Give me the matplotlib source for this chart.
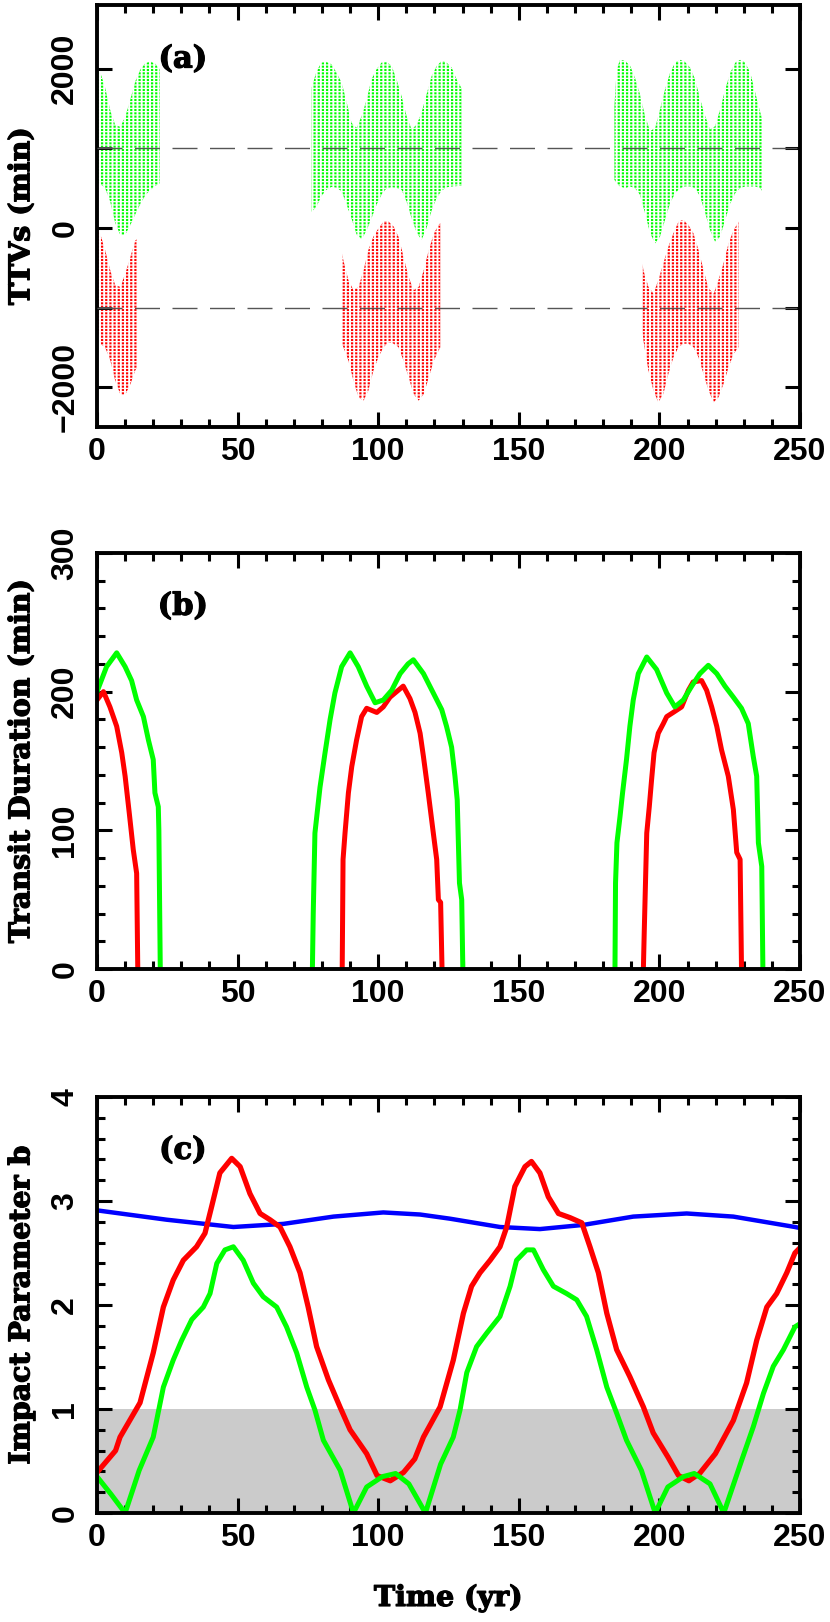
import numpy as np
import matplotlib
matplotlib.use("Agg")
import matplotlib.pyplot as plt
import matplotlib.patheffects as pe
from matplotlib.ticker import MultipleLocator, FixedLocator, FixedFormatter

plt.rcParams["font.family"] = ["Liberation Sans", "DejaVu Sans"]
plt.rcParams["font.weight"] = "bold"
plt.rcParams["hatch.linewidth"] = 1.0

GREEN, RED, BLUE = "#00ff00", "#ff0000", "#0000ff"
HEAVY = [pe.withStroke(linewidth=0.9, foreground="black")]
LABEL_FONT = dict(family="DejaVu Serif", weight="bold", size=20.5, path_effects=HEAVY)
TAG_FONT = dict(family="DejaVu Serif", weight="bold", size=22, path_effects=HEAVY)

# ---- (a) TTVs: upper / lower envelope of the zigzag, per transit window ----
ttv_g_t = [
    [0.4, 1.1, 2.9, 4.7, 6.5, 8.3, 10.1, 11.9, 13.6, 15.4, 17.2, 19.0, 20.8, 22.3],
    [76.3, 78.1, 79.8, 81.6, 83.4, 85.2, 87.0, 88.7, 90.5, 92.3, 94.1, 95.9, 97.6, 99.4,
     101.2, 103.0, 104.8, 106.5, 108.3, 110.1, 111.9, 113.7, 115.4, 117.2, 119.0, 120.8,
     122.6, 124.3, 126.1, 127.9, 129.7],
    [184.0, 184.8, 186.0, 187.8, 189.6, 191.3, 193.1, 194.9, 196.7, 198.5, 200.2, 202.0,
     203.8, 205.6, 207.4, 209.1, 210.9, 212.7, 214.5, 216.3, 218.0, 219.8, 221.6, 223.4,
     225.2, 227.0, 228.7, 230.5, 232.3, 234.1, 235.9, 236.7],
]
ttv_g_hi = [
    [1980, 1960, 1760, 1480, 1290, 1270, 1400, 1620, 1840, 1990, 2070, 2090, 2060, 1990],
    [1760, 1970, 2077, 2085, 2055, 1950, 1824, 1593, 1320, 1257, 1404, 1614, 1866, 1992,
     2077, 2085, 2035, 1866, 1656, 1404, 1236, 1299, 1446, 1677, 1908, 2035, 2098, 2077,
     2014, 1866, 1750],
    [1530, 1992, 2111, 2098, 2035, 1887, 1677, 1404, 1215, 1257, 1488, 1740, 1950, 2077,
     2111, 2085, 2014, 1866, 1614, 1404, 1236, 1278, 1488, 1740, 1950, 2077, 2111, 2077,
     1950, 1698, 1446, 1362],
]
ttv_g_lo = [
    [560, 555, 500, 330, 60, -90, -80, 40, 170, 300, 410, 480, 530, 560],
    [200, 270, 400, 480, 515, 505, 460, 300, 120, -80, -140, -30, 120, 290, 420, 500, 510,
     505, 480, 330, 120, -60, -150, 0, 220, 380, 470, 510, 520, 525, 530],
    [605, 560, 521, 500, 521, 500, 416, 185, -67, -193, -109, 101, 311, 438, 500, 521, 521,
     500, 395, 185, -25, -172, -109, 101, 311, 438, 500, 521, 521, 521, 500, 450],
]
ttv_r_t = [
    [0.4, 1.1, 2.9, 4.7, 6.5, 8.3, 10.1, 11.9, 13.6, 14.2],
    [87.0, 87.6, 89.4, 91.2, 93.0, 94.8, 96.5, 98.3, 100.1, 101.9, 103.7, 105.5, 107.2,
     109.0, 110.8, 112.6, 114.4, 116.2, 118.0, 119.8, 121.5, 122.1],
    [194.0, 194.3, 196.1, 197.9, 199.6, 201.4, 203.2, 205.0, 206.8, 208.5, 210.3, 212.1,
     213.9, 215.7, 217.5, 219.3, 221.0, 222.8, 224.6, 226.4, 228.2],
]
ttv_r_hi = [
    [-20, -70, -280, -530, -720, -740, -570, -360, -160, -140],
    [-300, -404, -656, -782, -740, -530, -277, -109, -4, 80, 80, 17, -109, -362, -614,
     -782, -740, -530, -277, -67, 38, 60],
    [-450, -530, -740, -824, -656, -446, -235, -67, 80, 101, 38, -67, -277, -530, -761,
     -824, -656, -446, -193, -25, 80],
]
ttv_r_lo = [
    [-1300, -1450, -1500, -1660, -1920, -2090, -2090, -1960, -1790, -1750],
    [-1450, -1496, -1664, -1917, -2127, -2169, -2043, -1790, -1622, -1496, -1433, -1454,
     -1496, -1664, -1875, -2085, -2169, -2085, -1875, -1664, -1538, -1500],
    [-1300, -1412, -1790, -2043, -2190, -2085, -1832, -1622, -1496, -1454, -1454, -1496,
     -1622, -1832, -2043, -2190, -2127, -1958, -1748, -1580, -1496],
]
ttv_offsets = [1000, -1000]

# ---- (b) transit duration (min) ----
dur_g_t = [
    [0, 3.4, 7.0, 10.0, 12.3, 14.1, 16.5, 18.3, 20.0, 20.6, 21.8, 22.0, 22.5],
    [76.6, 76.9, 77.5, 79.3, 81.1, 82.9, 84.6, 87.0, 90.0, 92.9, 95.9, 98.9, 101.8, 104.8,
     107.8, 110.6, 112.5, 116.1, 119.6, 122.6, 124.3, 126.1, 127.3, 128.1, 128.9, 129.7,
     130.1],
    [184.2, 184.4, 184.9, 186.0, 186.9, 188.3, 189.5, 190.7, 192.5, 195.5, 199.0, 202.6,
     205.5, 208.5, 211.5, 214.4, 217.4, 220.4, 223.3, 226.3, 229.2, 231.6, 233.4, 234.6,
     235.2, 236.4, 236.8],
]
dur_g_v = [
    [200, 218, 228, 218, 208, 194, 182, 165, 151, 127, 117, 100, 0],
    [0, 40, 98, 131, 156, 180, 199, 218, 228, 218, 204, 192, 194, 201, 213, 220, 223, 213,
     199, 187, 175, 160, 139, 122, 62, 50, 0],
    [0, 62, 91, 110, 127, 151, 175, 194, 213, 225, 216, 199, 189, 194, 204, 213, 219, 213,
     204, 196, 188, 177, 153, 139, 91, 74, 0],
]
dur_r_t = [
    [0, 2.3, 4.6, 7.0, 8.8, 10.0, 11.5, 12.9, 14.1, 14.5],
    [87.2, 87.5, 88.2, 89.4, 90.6, 92.3, 94.1, 95.9, 99.5, 101.8, 104.2, 108.9, 111.3,
     113.1, 114.9, 116.1, 117.8, 119.6, 120.8, 121.4, 122.2, 122.7],
    [194.3, 194.6, 194.9, 195.5, 196.4, 197.2, 198.1, 199.6, 201.4, 202.6, 204.9, 207.9,
     210.3, 212.0, 215.0, 216.8, 218.6, 220.4, 222.1, 224.5, 226.3, 227.5, 228.7, 229.2],
]
dur_r_v = [
    [194, 200, 189, 175, 156, 139, 112, 86, 69, 0],
    [0, 79, 98, 127, 146, 165, 182, 188, 185, 189, 196, 204, 195, 185, 170, 153, 127, 98,
     79, 50, 48, 0],
    [0, 26, 50, 98, 117, 136, 156, 170, 177, 182, 185, 189, 201, 207, 208, 201, 189, 175,
     158, 139, 115, 84, 79, 0],
]

# ---- (c) impact parameter b ----
imp_b_t = [0, 24.8, 48.5, 66.3, 84.1, 101.8, 114.9, 125.5, 143.3, 157.5, 172.9, 190.7,
           209.7, 226.3, 248.2, 250]
imp_b_v = [2.91, 2.82, 2.75, 2.78, 2.85, 2.89, 2.87, 2.83, 2.75, 2.73, 2.77, 2.85, 2.88,
           2.85, 2.75, 2.74]
imp_r_t = [0, 6.6, 8.2, 15.3, 20.0, 23.6, 27.1, 30.7, 35.4, 38.4, 40.8, 43.7, 47.9, 50.9,
           54.4, 58.0, 61.5, 65.1, 68.6, 72.2, 75.1, 78.1, 82.3, 86.4, 90.0, 95.9, 99.6,
           104.3, 109.0, 113.0, 116.1, 122.0, 126.7, 130.3, 133.2, 136.2, 139.8, 143.3,
           145.7, 148.6, 152.2, 154.5, 157.5, 160.5, 164.1, 168.2, 172.4, 175.3, 178.3,
           181.3, 184.8, 189.5, 194.3, 197.8, 203.0, 206.8, 210.5, 214.3, 219.9, 226.3,
           231.0, 234.6, 238.2, 241.7, 245.3, 248.2, 250]
imp_r_v = [0.39, 0.60, 0.73, 1.06, 1.54, 1.98, 2.24, 2.43, 2.56, 2.69, 2.95, 3.27, 3.41,
           3.33, 3.07, 2.88, 2.82, 2.75, 2.56, 2.31, 1.98, 1.60, 1.28, 1.02, 0.80, 0.57,
           0.36, 0.31, 0.39, 0.52, 0.73, 1.02, 1.47, 1.92, 2.18, 2.31, 2.43, 2.56, 2.75,
           3.14, 3.33, 3.38, 3.27, 3.04, 2.88, 2.84, 2.79, 2.56, 2.31, 1.92, 1.57, 1.31,
           1.02, 0.77, 0.54, 0.36, 0.31, 0.38, 0.57, 0.89, 1.25, 1.66, 1.98, 2.11, 2.31,
           2.50, 2.55]
imp_g_t = [0, 5, 10.0, 15.0, 20.0, 23.6, 27.1, 30.1, 33.7, 37.8, 40.2, 42.6, 45.5, 48.5,
           52.0, 55.6, 59.1, 63.9, 67.4, 71.0, 74.6, 77.5, 80.5, 86.5, 91.2, 95.9, 101.5,
           106.2, 110.9, 116.8, 122.2, 126.7, 129.1, 131.5, 135.0, 138.6, 143.3, 146.9,
           149.2, 152.8, 155.2, 158.7, 162.3, 167.0, 170.6, 174.1, 177.7, 181.3, 184.8,
           188.3, 193.6, 198.5, 203.0, 208.6, 212.4, 218.0, 222.9, 229.3, 233.4, 237.0,
           240.5, 244.1, 248.2, 250]
imp_g_v = [0.35, 0.18, 0.0, 0.41, 0.73, 1.21, 1.47, 1.66, 1.86, 1.98, 2.11, 2.40, 2.53,
           2.56, 2.43, 2.21, 2.08, 1.98, 1.79, 1.54, 1.21, 0.99, 0.70, 0.41, 0.0, 0.25,
           0.35, 0.38, 0.28, 0.0, 0.47, 0.73, 0.99, 1.35, 1.60, 1.73, 1.89, 2.18, 2.43,
           2.53, 2.53, 2.34, 2.18, 2.11, 2.05, 1.89, 1.57, 1.21, 0.96, 0.70, 0.41, 0.0,
           0.25, 0.35, 0.38, 0.28, 0.0, 0.51, 0.83, 1.15, 1.41, 1.57, 1.79, 1.82]
transit_limit = 1.0


def style(ax, ymajor, yminor=None):
    ax.set_xlim(0, 250)
    ax.xaxis.set_major_locator(MultipleLocator(50))
    ax.xaxis.set_minor_locator(MultipleLocator(10))
    ax.yaxis.set_major_locator(MultipleLocator(ymajor))
    if yminor:
        ax.yaxis.set_minor_locator(MultipleLocator(yminor))
    ax.tick_params(which="both", direction="in", top=True, right=True, width=2.2,
                   labelsize=23)
    ax.tick_params(which="major", length=10.5)
    ax.tick_params(which="minor", length=5.5)
    ax.tick_params(axis="x", pad=7)
    ax.tick_params(axis="y", pad=12, labelrotation=90)
    for lab in ax.get_yticklabels():
        lab.set_va("center")
    for s in ax.spines.values():
        s.set_linewidth(2.8)


def place_labels(ax, ylabel, tag):
    ax.set_ylabel(ylabel, **LABEL_FONT)
    ax.yaxis.label.set_va("center")
    ax.yaxis.set_label_coords(-0.107, 0.5)
    ax.text(0.122, 0.872, tag, transform=ax.transAxes, ha="center", va="center",
            **TAG_FONT)


def hatch_band(ax, t, lo, hi, color, pattern, hlw, z):
    coll = ax.fill_between(t, lo, hi, facecolor="none", edgecolor=color, hatch=pattern,
                           linewidth=0, zorder=z)
    if hasattr(coll, "set_hatch_linewidth"):
        coll.set_hatch_linewidth(hlw)
    return coll


fig = plt.figure(figsize=(8.3, 16.22), dpi=100)
L, W = 97 / 830, 703 / 830
ax_a = fig.add_axes([L, 1 - 427 / 1622, W, 422 / 1622])
ax_b = fig.add_axes([L, 1 - 969 / 1622, W, 416 / 1622])
ax_c = fig.add_axes([L, 1 - 1513 / 1622, W, 416 / 1622])

# (a) dotted zigzag look: vertical hatch broken into dots by a white horizontal hatch
for ts, his, los, col in [(ttv_g_t, ttv_g_hi, ttv_g_lo, GREEN),
                          (ttv_r_t, ttv_r_hi, ttv_r_lo, RED)]:
    for t, hi, lo in zip(ts, his, los):
        hatch_band(ax_a, t, lo, hi, col, "||||", 1.6, 1)
        hatch_band(ax_a, t, lo, hi, "white", "-----", 0.9, 2)
for off in ttv_offsets:
    ax_a.axhline(off, color="#555555", lw=1.0, dashes=(18, 9), zorder=3)
ax_a.set_ylim(-2500, 2800)
style(ax_a, 1000)
ax_a.yaxis.set_major_locator(FixedLocator([-2000, -1000, 0, 1000, 2000]))
ax_a.yaxis.set_major_formatter(FixedFormatter(["\u22122000", "", "0", "", "2000"]))
for lab in ax_a.get_yticklabels():
    lab.set_va("center")
place_labels(ax_a, "TTVs (min)", "(a)")

# (b)
for t, v in zip(dur_r_t, dur_r_v):
    ax_b.plot(t, v, color=RED, lw=3.6, solid_joinstyle="round")
for t, v in zip(dur_g_t, dur_g_v):
    ax_b.plot(t, v, color=GREEN, lw=3.6, solid_joinstyle="round")
ax_b.set_ylim(0, 300)
style(ax_b, 100, 20)
place_labels(ax_b, "Transit Duration (min)", "(b)")

# (c)
ax_c.axhspan(0, transit_limit, color="#cbcbcb", lw=0, zorder=0)
ax_c.plot(imp_b_t, imp_b_v, color=BLUE, lw=3.2)
ax_c.plot(imp_r_t, imp_r_v, color=RED, lw=3.8, solid_joinstyle="round")
ax_c.plot(imp_g_t, imp_g_v, color=GREEN, lw=3.6, solid_joinstyle="round")
ax_c.set_ylim(0, 4)
style(ax_c, 1, 0.2)
place_labels(ax_c, "Impact Parameter b", "(c)")
ax_c.set_xlabel("Time (yr)", **LABEL_FONT)
ax_c.xaxis.label.set_va("center")
ax_c.xaxis.set_label_coords(0.5, -0.205)

fig.savefig("out.png", dpi=100)
